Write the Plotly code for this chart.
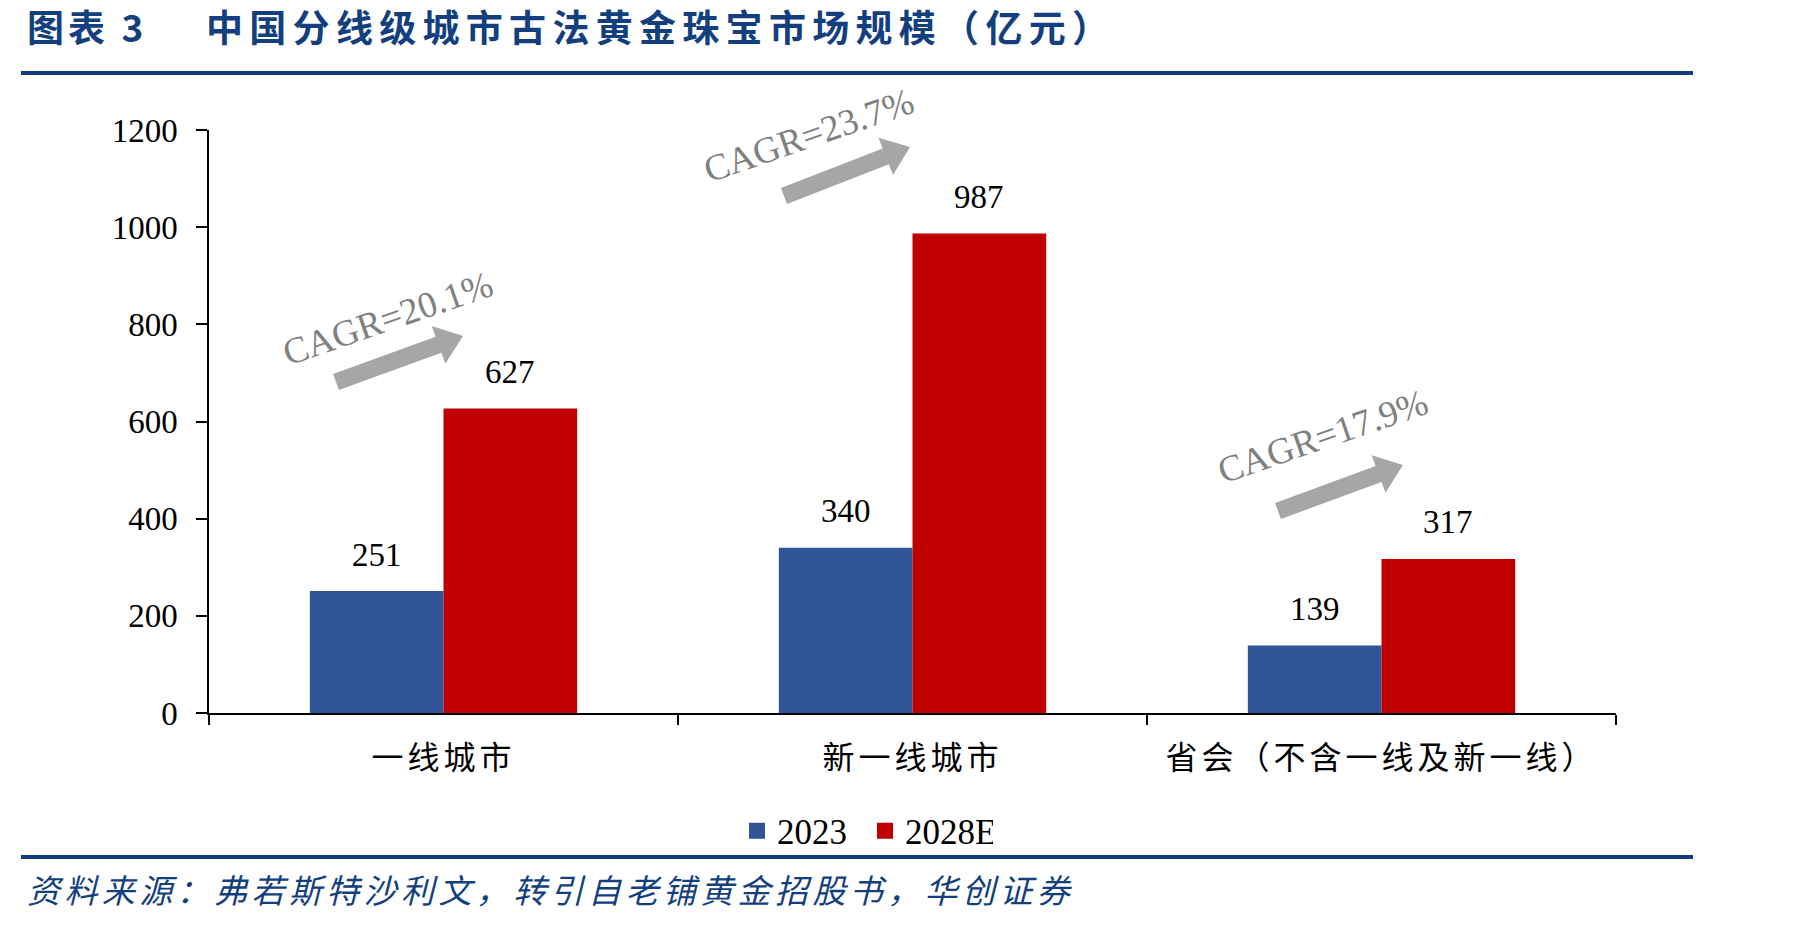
import plotly.graph_objects as go
import numpy as np

# ---------------- data ----------------
categories = ["一线城市", "新一线城市", "省会（不含一线及新一线）"]
series_names = ["2023", "2028E"]
values_2023 = [251, 340, 139]
values_2028 = [627, 987, 317]
cagr_labels = ["CAGR=20.1%", "CAGR=23.7%", "CAGR=17.9%"]
y_ticks = [0, 200, 400, 600, 800, 1000, 1200]
title_prefix = "图表 3"
title_text = "中国分线级城市古法黄金珠宝市场规模（亿元）"
source_text = "资料来源：弗若斯特沙利文，转引自老铺黄金招股书，华创证券"

# ---------------- layout geometry (pixels) ----------------
W, H = 1801, 926
L, R, T, B = 209, 185, 130, 213
PW = W - L - R
PH = H - T - B
BARGAP = 0.43

BLUE = "#2f5597"
RED = "#c00000"
NAVY = "#133f7f"
GREY_TXT = "#808080"
GREY_ARROW = "#a6a6a6"
SERIF = "Liberation Serif"
CJK = "Noto Sans CJK SC"
colors = [BLUE, RED]


def px2paper(x, y):
    return (x - L) / PW, (H - B - y) / PH


def spaced(s, px):
    return f'<span style="letter-spacing:{px}px">{s}</span>'


def arrow_path(tail, tip, w=8.5, h=20, hl=26):
    t = np.array(tail, float)
    p = np.array(tip, float)
    u = (p - t) / np.linalg.norm(p - t)
    n = np.array([-u[1], u[0]])
    b = p - u * hl
    pts = [t + n * w, b + n * w, b + n * h, p, b - n * h, b - n * w, t - n * w]
    s = ""
    for i, q in enumerate(pts):
        x, y = px2paper(q[0], q[1])
        s += ("M" if i == 0 else "L") + f"{x:.5f},{y:.5f} "
    return s + "Z"


fig = go.Figure()
for name, vals, col in zip(series_names, (values_2023, values_2028), colors):
    fig.add_trace(go.Bar(name=name, x=categories, y=vals, showlegend=False,
                         marker=dict(color=col, line=dict(width=0))))
# legend entries (square swatches)
for name, col in zip(series_names, colors):
    fig.add_trace(go.Scatter(name=name, x=[categories[0]], y=[None], mode="markers",
                             marker=dict(symbol="square", size=19, color=col),
                             showlegend=True, hoverinfo="skip"))

annotations = []
bar_w = PW / len(categories) * (1 - BARGAP) / 2
for vals, sign in ((values_2023, -1), (values_2028, 1)):
    for c, v in zip(categories, vals):
        annotations.append(dict(x=c, y=v, xref="x", yref="y", text=str(v),
                                showarrow=False, xshift=sign * bar_w / 2,
                                yshift=36.5, yanchor="middle",
                                font=dict(family=SERIF, size=33, color="#000000")))

# CAGR labels + arrows (decoration)
cagr_centers = [(387, 318), (808, 135), (1322, 436)]
arrow_ends = [((336, 382), (463, 336)), ((784, 196), (910, 147)), ((1278, 511), (1403, 465))]
shapes = []
for lab, (cx, cy), (ta, tp) in zip(cagr_labels, cagr_centers, arrow_ends):
    x, y = px2paper(cx, cy)
    annotations.append(dict(x=x, y=y, xref="paper", yref="paper", text=lab,
                            showarrow=False, textangle=-19,
                            xanchor="center", yanchor="middle",
                            font=dict(family=SERIF, size=37, color=GREY_TXT)))
    shapes.append(dict(type="path", xref="paper", yref="paper",
                       path=arrow_path(ta, tp), fillcolor=GREY_ARROW,
                       line=dict(width=0)))

# title
x0, y0 = px2paper(25, 26)
annotations.append(dict(x=x0, y=y0, xref="paper", yref="paper", text=spaced(title_prefix, 4),
                        showarrow=False, xanchor="left", yanchor="middle",
                        font=dict(family=CJK, size=37, color=NAVY, weight="bold")))
x1, _ = px2paper(204, 26)
annotations.append(dict(x=x1, y=y0, xref="paper", yref="paper", text=spaced(title_text, 6.3),
                        showarrow=False, xanchor="left", yanchor="middle",
                        font=dict(family=CJK, size=37, color=NAVY, weight="bold")))
# source
xs, ys = px2paper(25, 889)
annotations.append(dict(x=xs, y=ys, xref="paper", yref="paper", text=spaced(source_text, 4.4),
                        showarrow=False, xanchor="left", yanchor="middle",
                        font=dict(family=CJK, size=33, color=NAVY, style="italic")))

# rules
rx0, ry_top = px2paper(21, 73)
rx1, ry_bot = px2paper(1693, 857)
for yy in (ry_top, ry_bot):
    shapes.append(dict(type="line", xref="paper", yref="paper",
                       x0=rx0, x1=rx1, y0=yy, y1=yy,
                       line=dict(color="#0d3f80", width=4)))

lx, ly = px2paper(737, 831)

fig.update_layout(
    width=W, height=H,
    margin=dict(l=L, r=R, t=T, b=B, pad=0),
    paper_bgcolor="white", plot_bgcolor="white",
    barmode="group", bargap=BARGAP, bargroupgap=0,
    showlegend=True,
    legend=dict(orientation="h", x=lx, xanchor="left", y=ly, yanchor="middle",
                font=dict(family=SERIF, size=35, color="#000000"),
                entrywidth=83, entrywidthmode="pixels",
                itemclick=False, itemsizing="trace", bgcolor="rgba(0,0,0,0)"),
    annotations=annotations,
    shapes=shapes,
)
fig.update_xaxes(type="category", tickson="boundaries", ticks="outside", ticklen=10,
                 tickwidth=1.5, tickcolor="#000000", showline=True, linecolor="#000000",
                 linewidth=1.5, showgrid=False, ticklabelstandoff=16,
                 tickvals=categories, ticktext=[spaced(c, 4) for c in categories],
                 tickfont=dict(family=CJK, size=32, color="#000000"),
                 range=[-0.5, 2.5])
fig.update_yaxes(range=[0, 1200], tickvals=y_ticks, ticks="outside", ticklen=11,
                 tickwidth=1.5, tickcolor="#000000", showline=True, linecolor="#000000",
                 linewidth=1.5, showgrid=False, zeroline=False, ticklabelstandoff=12,
                 tickfont=dict(family=SERIF, size=33, color="#000000"))

fig.write_html("out.html")
